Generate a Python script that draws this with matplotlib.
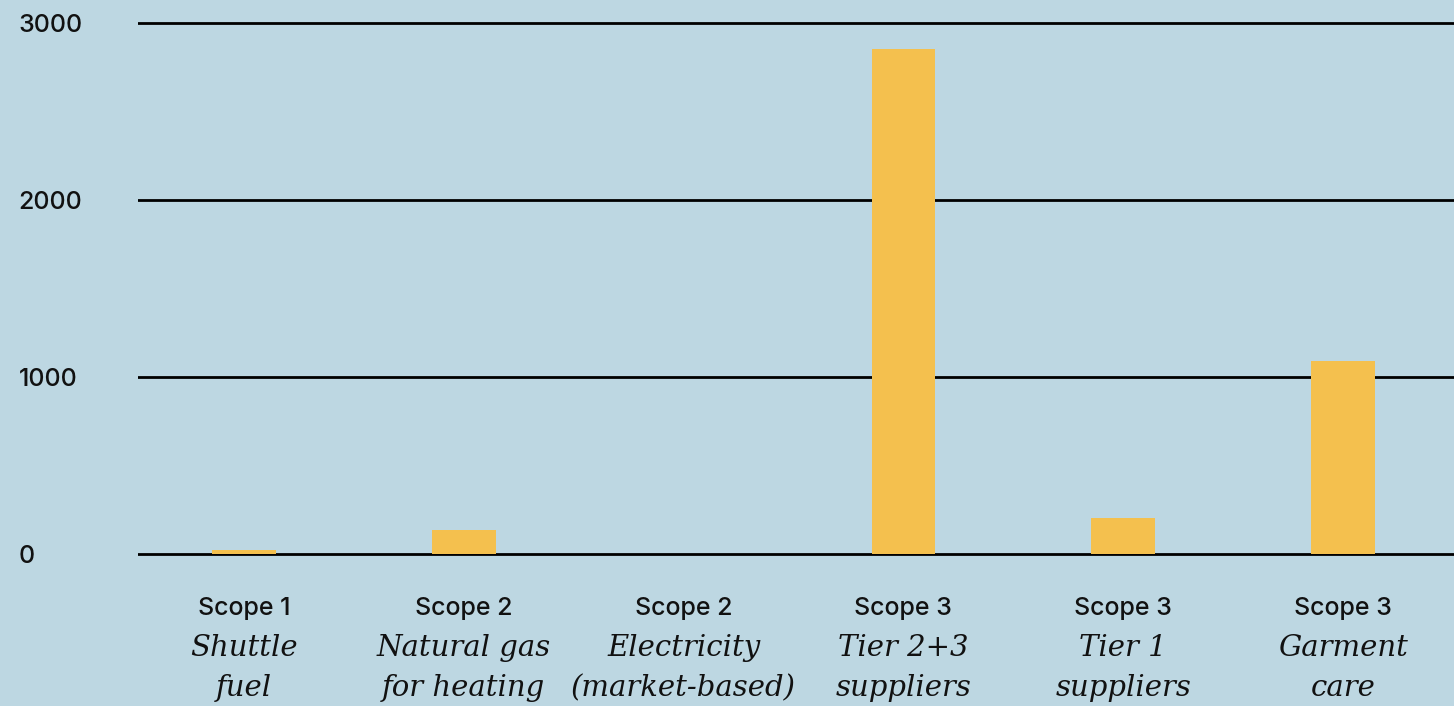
import matplotlib.pyplot as plt
from matplotlib.transforms import blended_transform_factory

# Emissions by source (tCO2e)
scopes = ["Scope 1", "Scope 2", "Scope 2", "Scope 3", "Scope 3", "Scope 3"]
sources = ["Shuttle\nfuel", "Natural gas\nfor heating", "Electricity\n(market-based)",
           "Tier 2+3\nsuppliers", "Tier 1\nsuppliers", "Garment\ncare"]
emissions = [20, 135, 0, 2855, 205, 1088]
y_ticks = [0, 1000, 2000, 3000]

bg = "#BDD7E2"
bar_color = "#F4C04E"

fig = plt.figure(figsize=(14.54, 7.06), dpi=100)
fig.patch.set_facecolor(bg)
ax = fig.add_axes([138 / 1454, 1 - 580 / 706, 1 - 138 / 1454, 580 / 706])
ax.set_facecolor(bg)

x = range(len(emissions))
ax.bar(x, emissions, width=0.29, color=bar_color, zorder=3)

# horizontal rules instead of a frame
for v in y_ticks:
    ax.axhline(v, color="black", linewidth=2.0, zorder=2)

ax.set_xlim(-0.482, 5.505)
ax.set_ylim(-147, 3130)
for s in ax.spines.values():
    s.set_visible(False)

ax.set_yticks(y_ticks)
ax.set_yticklabels([str(v) for v in y_ticks], fontsize=18, family="Inter",
                   fontweight="medium", color="#111111")
for lab in ax.get_yticklabels():
    lab.set_horizontalalignment("left")
ax.tick_params(axis="y", length=0, pad=86)
ax.set_xticks([])

# two-part category labels under each bar
trans = blended_transform_factory(ax.transData, fig.transFigure)
for i, (sc, src) in enumerate(zip(scopes, sources)):
    ax.text(i, 1 - 609 / 706, sc, transform=trans, ha="center", va="center",
            fontsize=18, family="Inter", fontweight="medium", color="#111111")
    for j, line in enumerate(src.split("\n")):
        ax.text(i, 1 - (648 + 40 * j) / 706, line, transform=trans, ha="center",
                va="center", fontsize=21, family="DejaVu Serif", style="italic",
                color="#111111")

plt.savefig("out.png", dpi=100, facecolor=bg)
